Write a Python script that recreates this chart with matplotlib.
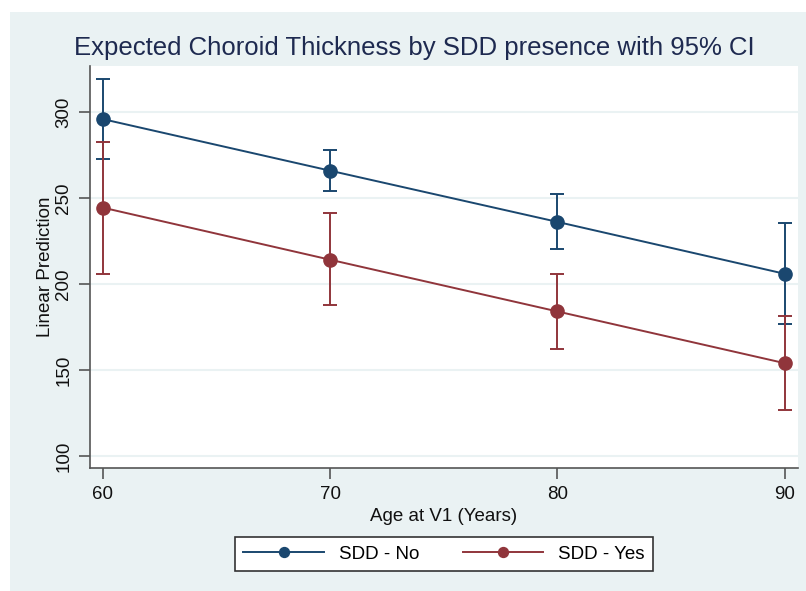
import matplotlib
matplotlib.use("Agg")
import matplotlib.pyplot as plt
from matplotlib.patches import Rectangle

plt.rcParams['font.family'] = ['Liberation Sans', 'DejaVu Sans']

# values
ages = [60, 70, 80, 90]
no_mean = [296.0, 266.0, 236.2, 206.0]
no_lo = [272.8, 254.0, 220.3, 176.7]
no_hi = [319.4, 278.3, 252.3, 235.4]
yes_mean = [244.5, 214.2, 184.1, 154.0]
yes_lo = [206.0, 187.6, 162.2, 127.0]
yes_hi = [282.7, 241.3, 206.0, 181.2]
y_ticks = [100, 150, 200, 250, 300]

BLUE = '#1a476f'
RED = '#90353b'
BG = '#eaf2f3'

W, H = 806, 591
fig = plt.figure(figsize=(W / 100, H / 100), dpi=100, facecolor='white')
# light background panel (white margin on top and left)
fig.patches.append(Rectangle((10 / W, 0), 1, (H - 12) / H, transform=fig.transFigure,
                             facecolor=BG, edgecolor='none', zorder=-10))

ax = fig.add_axes([90.3 / W, 1 - 468.3 / H, (797.7 - 90.3) / W, (468.3 - 66) / H])
ax.set_facecolor('white')

for mean, lo, hi, col, lab in [(no_mean, no_lo, no_hi, BLUE, 'SDD - No'),
                               (yes_mean, yes_lo, yes_hi, RED, 'SDD - Yes')]:
    err = [[m - l for m, l in zip(mean, lo)], [h - m for m, h in zip(mean, hi)]]
    ax.errorbar(ages, mean, yerr=err, fmt='none', ecolor=col, elinewidth=1.4,
                capsize=5, capthick=1.4, zorder=3)
    ax.plot(ages, mean, color=col, lw=1.4, marker='o', markersize=9.5,
            markeredgecolor=col, label=lab, zorder=4)

ax.set_xlim(59.45, 90.57)
ax.set_ylim(92.85, 326.9)
ax.set_xticks(ages)
ax.set_yticks(y_ticks)
ax.set_yticklabels([str(v) for v in y_ticks], rotation=90, va='center')
ax.grid(axis='y', color=BG, lw=1.5)
ax.set_axisbelow(True)

for s in ['top', 'right']:
    ax.spines[s].set_visible(False)
for s in ['left', 'bottom']:
    ax.spines[s].set_color('#555555')
    ax.spines[s].set_linewidth(1.2)
ax.tick_params(length=8, width=1.2, color='#555555', labelsize=13.5, labelcolor='#111111', pad=5)

ax.set_xlabel('Age at V1 (Years)', fontsize=13.5, color='#111111', labelpad=3)
ax.set_ylabel('Linear Prediction', fontsize=13.5, color='#111111', labelpad=1)

fig.text(414 / W, 1 - 48 / H, 'Expected Choroid Thickness by SDD presence with 95% CI',
         ha='center', va='center', fontsize=18.5, color='#1e2a50')

leg = fig.legend(loc='center', bbox_to_anchor=(444 / W, 1 - 554.4 / H), ncol=2,
                 fontsize=13.5, frameon=True, fancybox=False, edgecolor='#333333',
                 facecolor='white', framealpha=1, handlelength=4.3, handletextpad=0.8,
                 columnspacing=2.3, markerscale=0.75, borderpad=0.45)
leg.get_frame().set_linewidth(1.2)

fig.savefig('out.png', dpi=100, facecolor=fig.get_facecolor())
